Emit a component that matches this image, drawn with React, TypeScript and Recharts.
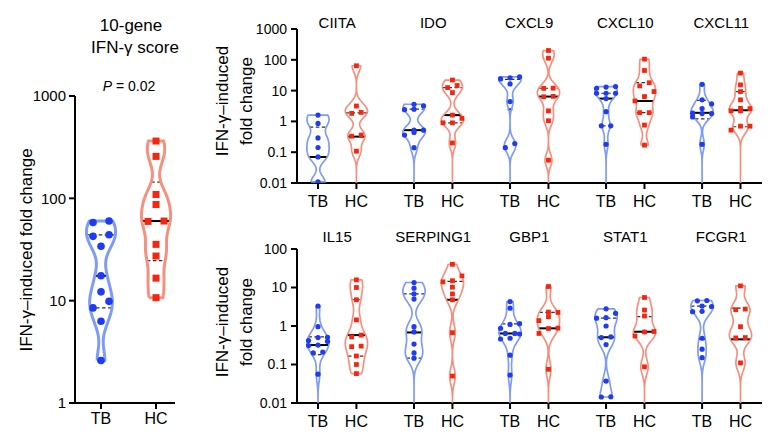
import React from 'react';
import { ScatterChart, Scatter, XAxis, YAxis, ReferenceLine } from 'recharts';

const FONT = '"Liberation Sans", Arial, Helvetica, sans-serif';
const TB_POINT = '#1d3cf4';
const TB_VIOLIN = '#7f9cf4';
const HC_POINT = '#f4260f';
const HC_VIOLIN = '#f6907e';

const groupLabels = ['TB', 'HC'];
const yLabel = 'IFN-\u03B3\u2013induced fold change';
const yLabelLines = ['IFN-\u03B3\u2013induced', 'fold change'];

// ---- 10-gene IFN-γ score ----
const scoreTitle = ['10-gene', 'IFN-\u03B3 score'];
const scorePValue = '0.02';
const scoreTicks = [1, 10, 100, 1000];
const scoreTB = [60, 58, 44, 42.5, 34, 17.5, 12.2, 9.85, 8.5, 6.3, 2.6];
const scoreHC = [363, 257, 109, 87, 60, 59.5, 35.5, 27.3, 16.6, 10.7];
const scoreTBStats = [8.5, 17.5, 44]; // [Q1, median, Q3]
const scoreHCStats = [24.6, 60, 144];

// ---- top row genes ----
const topGenes = ['CIITA', 'IDO', 'CXCL9', 'CXCL10', 'CXCL11'];
const topTicks = [0.01, 0.1, 1, 10, 100, 1000];
const ciitaTB = [1.61, 0.86, 0.29, 0.142, 0.07, 0.0108];
const ciitaHC = [64, 3.16, 1.96, 1.82, 0.36, 0.33, 0.108, 0.001];
const idoTB = [3.6, 3.2, 2.5, 2.4, 0.52, 0.52, 0.44, 0.36, 0.14, 0.001];
const idoHC = [22, 14.6, 12.5, 8.6, 1.6, 1.25, 0.9, 0.9, 0.2, 0.001];
const cxcl9TB = [28, 26, 24, 16.5, 4.4, 0.19, 0.14, 0.001];
const cxcl9HC = [200, 113, 12, 11.8, 6.5, 6.3, 2.2, 1.05, 0.055, 0.001];
const cxcl10TB = [13.5, 13, 11.9, 8.2, 8.2, 8.2, 5.5, 2.07, 0.72, 0.72, 0.18, 0.001];
const cxcl10HC = [105, 45, 18, 14.2, 9.3, 6.4, 4.6, 1.92, 1.92, 0.76, 0.17];
const cxcl11TB = [16, 5, 3.7, 2.6, 1.85, 1.8, 1.8, 1.4, 0.18, 0.001];
const cxcl11HC = [37, 15.3, 9.3, 5, 2.65, 2.6, 2.2, 2.2, 0.7, 0.7, 0.52, 0.001];
const ciitaTBStats = [null, 0.07, 0.65];
const ciitaHCStats = [null, 0.32, 1.9];
const idoTBStats = [null, 0.52, 2.5];
const idoHCStats = [0.9, 1.6, 12.5];
const cxcl9TBStats = [null, 2.46, 23];
const cxcl9HCStats = [null, 6.4, 11.9];
const cxcl10TBStats = [0.72, 5.5, 8.2];
const cxcl10HCStats = [1.92, 4.6, 18.2];
const cxcl11TBStats = [1.2, 1.9, 4.8];
const cxcl11HCStats = [0.67, 2.3, 9.3];

// ---- bottom row genes ----
const bottomGenes = ['IL15', 'SERPING1', 'GBP1', 'STAT1', 'FCGR1'];
const bottomTicks = [0.01, 0.1, 1, 10, 100];
const il15TB = [3.3, 0.96, 0.51, 0.5, 0.42, 0.4, 0.32, 0.31, 0.21, 0.2, 0.056, 0.001];
const il15HC = [15.8, 10, 4.8, 1.44, 0.58, 0.52, 0.3, 0.29, 0.166, 0.1, 0.058];
const serping1TB = [13.5, 9.6, 6.8, 5, 0.96, 0.7, 0.34, 0.2, 0.146, 0.001];
const serping1HC = [40, 20, 15, 14, 10.2, 6.8, 4.8, 0.67, 0.05, 0.001];
const gbp1TB = [4.3, 2.9, 1.15, 1.1, 0.87, 0.64, 0.64, 0.62, 0.48, 0.46, 0.175, 0.053, 0.001];
const gbp1HC = [10.6, 2.3, 2.25, 1.75, 1.38, 0.88, 0.86, 0.64, 0.075, 0.001];
const stat1TB = [2.8, 2.14, 1.65, 1.6, 1.0, 0.52, 0.5, 0.33, 0.037, 0.0145, 0.0143];
const stat1HC = [5.5, 2.6, 1.82, 0.72, 0.7, 0.55, 0.087, 0.001];
const fcgr1TB = [4.6, 4.5, 3.3, 3.2, 2.4, 2.35, 0.48, 0.25, 0.15, 0.001];
const fcgr1HC = [11, 2.75, 2.65, 0.96, 0.5, 0.49, 0.11, 0.001];
const il15TBStats = [0.18, 0.32, 0.52];
const il15HCStats = [0.166, 0.58, 4.8];
const serping1TBStats = [0.146, 0.68, 6.8];
const serping1HCStats = [null, 4.8, 14.5];
const gbp1TBStats = [null, 0.64, 1.13];
const gbp1HCStats = [0.075, 0.87, 2.27];
const stat1TBStats = [0.037, 0.51, 1.6];
const stat1HCStats = [null, 0.71, 1.75];
const fcgr1TBStats = [null, 0.46, 3.3];
const fcgr1HCStats = [null, 0.45, 2.9];

const topTB = [ciitaTB, idoTB, cxcl9TB, cxcl10TB, cxcl11TB];
const topHC = [ciitaHC, idoHC, cxcl9HC, cxcl10HC, cxcl11HC];
const topTBStats = [ciitaTBStats, idoTBStats, cxcl9TBStats, cxcl10TBStats, cxcl11TBStats];
const topHCStats = [ciitaHCStats, idoHCStats, cxcl9HCStats, cxcl10HCStats, cxcl11HCStats];
const bottomTB = [il15TB, serping1TB, gbp1TB, stat1TB, fcgr1TB];
const bottomHC = [il15HC, serping1HC, gbp1HC, stat1HC, fcgr1HC];
const bottomTBStats = [il15TBStats, serping1TBStats, gbp1TBStats, stat1TBStats, fcgr1TBStats];
const bottomHCStats = [il15HCStats, serping1HCStats, gbp1HCStats, stat1HCStats, fcgr1HCStats];

type Cfg = {
  pxPerDec: number;
  pxPerUnit: number;
  maxHalf: number;
  h: number;
  thr: number;
  step: number;
  cap: number;
  violinWidth: number;
  pointR: number;
  medianWidth: number;
  quartWidth: number;
};

function kdeFn(logs: number[], h: number) {
  return (y: number) => logs.reduce((s, l) => s + Math.exp(-0.5 * ((y - l) / h) ** 2), 0);
}

function violinOf(values: number[], center: number, cfg: Cfg) {
  const logs = values.map((v) => Math.log10(v));
  const lo = Math.min(...logs);
  const hi = Math.max(...logs);
  const f = kdeFn(logs, cfg.h);
  const n = 100;
  const ys = Array.from({ length: n + 1 }, (_, i) => lo + ((hi - lo) * i) / n);
  const ds = ys.map(f);
  const maxD = Math.max(...ds);
  const hw = (d: number) => (d / maxD) * cfg.maxHalf;
  const left = ys.map((y, i) => ({ x: center - hw(ds[i]), y: Math.pow(10, y) }));
  const right = ys.map((y, i) => ({ x: center + hw(ds[i]), y: Math.pow(10, y) })).reverse();
  return {
    outline: [...left, ...right, left[0]],
    halfAt: (v: number) => hw(f(Math.log10(v))),
  };
}

function swarm(values: number[], center: number, cfg: Cfg) {
  const sorted = [...values].sort((a, b) => a - b);
  const clusters: number[][] = [];
  let cur: number[] = [];
  for (const v of sorted) {
    if (
      cur.length &&
      cur.length < cfg.cap &&
      (Math.log10(v) - Math.log10(cur[cur.length - 1])) * cfg.pxPerDec < cfg.thr
    ) {
      cur.push(v);
    } else {
      if (cur.length) clusters.push(cur);
      cur = [v];
    }
  }
  if (cur.length) clusters.push(cur);
  const pts: { x: number; y: number }[] = [];
  clusters.forEach((c) =>
    c.forEach((v, k) => pts.push({ x: center + ((k - (c.length - 1) / 2) * cfg.step) / cfg.pxPerUnit, y: v }))
  );
  return pts;
}

const circleShape = (color: string, r: number) => (p: any) =>
  <circle cx={p.cx} cy={p.cy} r={r} fill={color} />;
const squareShape = (color: string, r: number) => (p: any) =>
  <rect x={p.cx - r} y={p.cy - r} width={2 * r} height={2 * r} fill={color} />;
const noShape = () => <g />;

function groupParts(
  key: string,
  values: number[],
  stats: (number | null)[],
  center: number,
  isTB: boolean,
  cfg: Cfg,
  xId: string
) {
  const vio = violinOf(values, center, cfg);
  const pts = swarm(values, center, cfg);
  const vColor = isTB ? TB_VIOLIN : HC_VIOLIN;
  const pColor = isTB ? TB_POINT : HC_POINT;
  const violin = (
    <Scatter
      key={key + '-v'}
      xAxisId={xId}
      data={vio.outline}
      shape={noShape}
      line={{ stroke: vColor, strokeWidth: cfg.violinWidth, strokeLinejoin: 'round' }}
      lineType="joint"
      isAnimationActive={false}
      legendType="none"
    />
  );
  const lines = stats
    .map((v, i) => {
      if (v == null) return null;
      const hw = Math.max(vio.halfAt(v), 0.06);
      const med = i === 1;
      return (
        <ReferenceLine
          key={key + '-s' + i}
          xAxisId={xId}
          segment={[
            { x: center - hw, y: v },
            { x: center + hw, y: v },
          ]}
          stroke={med ? '#000' : '#333'}
          strokeWidth={med ? cfg.medianWidth : cfg.quartWidth}
          strokeDasharray={med ? undefined : '3.5 2.5'}
          ifOverflow="discard"
        />
      );
    })
    .filter(Boolean);
  const points = (
    <Scatter
      key={key + '-p'}
      xAxisId={xId}
      data={pts}
      shape={isTB ? circleShape(pColor, cfg.pointR) : squareShape(pColor, cfg.pointR * 0.92)}
      isAnimationActive={false}
      legendType="none"
    />
  );
  return { violin, lines, points };
}

const axisStroke = { stroke: '#000', strokeWidth: 2 };

// ---------------- left panel -----------------
const leftCfg: Cfg = {
  pxPerDec: 102.3,
  pxPerUnit: 55,
  maxHalf: 0.265,
  h: 0.12,
  thr: 7.5,
  step: 16,
  cap: 3,
  violinWidth: 3,
  pointR: 3.8,
  medianWidth: 2,
  quartWidth: 1.3,
};

function LeftChart() {
  const parts = [
    groupParts('sTB', scoreTB, scoreTBStats, 0, true, leftCfg, 'b'),
    groupParts('sHC', scoreHC, scoreHCStats, 1, false, leftCfg, 'b'),
  ];
  return (
    <ScatterChart width={200} height={440} margin={{ top: 96, right: 25, bottom: 0, left: 0 }}>
      <XAxis
        xAxisId="b"
        type="number"
        dataKey="x"
        domain={[-0.473, 1.345]}
        allowDataOverflow
        ticks={[0, 1]}
        interval={0}
        tickFormatter={(v: number) => groupLabels[Math.round(v)]}
        height={37}
        axisLine={axisStroke}
        tickLine={axisStroke}
        tickSize={6}
        tickMargin={4}
        tick={{ fill: '#000', fontSize: 16, fontFamily: FONT }}
      />
      <YAxis
        type="number"
        dataKey="y"
        scale="log"
        domain={[1, 1000]}
        allowDataOverflow
        ticks={scoreTicks}
        interval={0}
        width={75}
        axisLine={axisStroke}
        tickLine={axisStroke}
        tickSize={6}
        tickMargin={3}
        tick={{ fill: '#000', fontSize: 15, fontFamily: FONT }}
      />
      {parts.map((p) => p.violin)}
      {parts.flatMap((p) => p.lines)}
      {parts.map((p) => p.points)}
    </ScatterChart>
  );
}

// ---------------- right panels -----------------
const GROUP_GAP = 2.5;
const rightDomain = [-0.547, 11.56];

function RowChart({
  genes,
  tb,
  hc,
  tbStats,
  hcStats,
  ticks,
  pxPerDec,
  titleMargin,
}: {
  genes: string[];
  tb: number[][];
  hc: number[][];
  tbStats: (number | null)[][];
  hcStats: (number | null)[][];
  ticks: number[];
  pxPerDec: number;
  titleMargin: number;
}) {
  const cfg: Cfg = {
    pxPerDec,
    pxPerUnit: 38.4,
    maxHalf: 0.29,
    h: 0.2,
    thr: 5,
    step: 9.5,
    cap: 3,
    violinWidth: 1.7,
    pointR: 2.6,
    medianWidth: 2,
    quartWidth: 1.2,
  };
  const xTicks: number[] = [];
  const xTickLabels: string[] = [];
  genes.forEach((_, i) => {
    xTicks.push(i * GROUP_GAP, i * GROUP_GAP + 1);
    xTickLabels.push(groupLabels[0], groupLabels[1]);
  });
  const titleTicks = genes.map((_, i) => i * GROUP_GAP + 0.5);
  const parts = genes.flatMap((g, i) => [
    groupParts(g + 'TB', tb[i], tbStats[i], i * GROUP_GAP, true, cfg, 'b'),
    groupParts(g + 'HC', hc[i], hcStats[i], i * GROUP_GAP + 1, false, cfg, 'b'),
  ]);
  return (
    <ScatterChart width={578} height={220} margin={{ top: 0, right: 16, bottom: 0, left: 0 }}>
      <XAxis
        xAxisId="t"
        orientation="top"
        type="number"
        dataKey="x"
        domain={rightDomain}
        allowDataOverflow
        ticks={titleTicks}
        interval={0}
        tickFormatter={(v: number) => genes[Math.round((v - 0.5) / GROUP_GAP)]}
        height={29}
        axisLine={false}
        tickLine={false}
        tickSize={0}
        tickMargin={titleMargin}
        tick={{ fill: '#000', fontSize: 15, fontFamily: FONT }}
      />
      <XAxis
        xAxisId="b"
        type="number"
        dataKey="x"
        domain={rightDomain}
        allowDataOverflow
        ticks={xTicks}
        interval={0}
        tickFormatter={(v: number) => xTickLabels[xTicks.findIndex((t) => Math.abs(t - v) < 1e-6)]}
        height={37}
        axisLine={axisStroke}
        tickLine={axisStroke}
        tickSize={6}
        tickMargin={7}
        tick={{ fill: '#000', fontSize: 16, fontFamily: FONT }}
      />
      <YAxis
        type="number"
        dataKey="y"
        scale="log"
        domain={[ticks[0], ticks[ticks.length - 1]]}
        allowDataOverflow
        ticks={ticks}
        interval={0}
        tickFormatter={(v: number) => String(v)}
        width={97}
        axisLine={axisStroke}
        tickLine={axisStroke}
        tickSize={6}
        tickMargin={4}
        tick={{ fill: '#000', fontSize: 14, fontFamily: FONT }}
      />
      {parts.map((p) => p.violin)}
      {parts.flatMap((p) => p.lines)}
      {parts.map((p) => p.points)}
    </ScatterChart>
  );
}

const textBase: React.CSSProperties = {
  position: 'absolute',
  fontFamily: FONT,
  color: '#000',
  whiteSpace: 'nowrap',
};

function Rotated({ x, y, lines, size }: { x: number; y: number; lines: string[]; size: number }) {
  return (
    <div
      style={{
        ...textBase,
        left: x,
        top: y,
        fontSize: size,
        lineHeight: '24px',
        textAlign: 'center',
        transform: 'translate(-50%, -50%) rotate(-90deg)',
      }}
    >
      {lines.map((l, i) => (
        <div key={i}>{l}</div>
      ))}
    </div>
  );
}

function Centered({ x, y, size, children }: { x: number; y: number; size: number; children: React.ReactNode }) {
  return (
    <div style={{ ...textBase, left: x, top: y, fontSize: size, transform: 'translate(-50%, -50%)' }}>
      {children}
    </div>
  );
}

export default function App() {
  return (
    <div
      style={{
        position: 'absolute',
        left: 0,
        top: 0,
        width: 778,
        height: 440,
        background: '#fff',
        overflow: 'hidden',
      }}
    >
      <div style={{ position: 'absolute', left: 0, top: 0 }}>
        <LeftChart />
      </div>
      <div style={{ position: 'absolute', left: 200, top: 0 }}>
        <RowChart
          genes={topGenes}
          tb={topTB}
          hc={topHC}
          tbStats={topTBStats}
          hcStats={topHCStats}
          ticks={topTicks}
          pxPerDec={30.8}
          titleMargin={1.5}
        />
      </div>
      <div style={{ position: 'absolute', left: 200, top: 220 }}>
        <RowChart
          genes={bottomGenes}
          tb={bottomTB}
          hc={bottomHC}
          tbStats={bottomTBStats}
          hcStats={bottomHCStats}
          ticks={bottomTicks}
          pxPerDec={38.5}
          titleMargin={7.5}
        />
      </div>
      <Centered x={131} y={26} size={17}>
        {scoreTitle[0]}
      </Centered>
      <Centered x={135} y={48} size={17}>
        {scoreTitle[1]}
      </Centered>
      <Centered x={129} y={86} size={14}>
        <i>P</i> = {scorePValue}
      </Centered>
      <Rotated x={27} y={250} lines={[yLabel]} size={17} />
      <Rotated x={235} y={101} lines={yLabelLines} size={17} />
      <Rotated x={235} y={322} lines={yLabelLines} size={17} />
    </div>
  );
}
